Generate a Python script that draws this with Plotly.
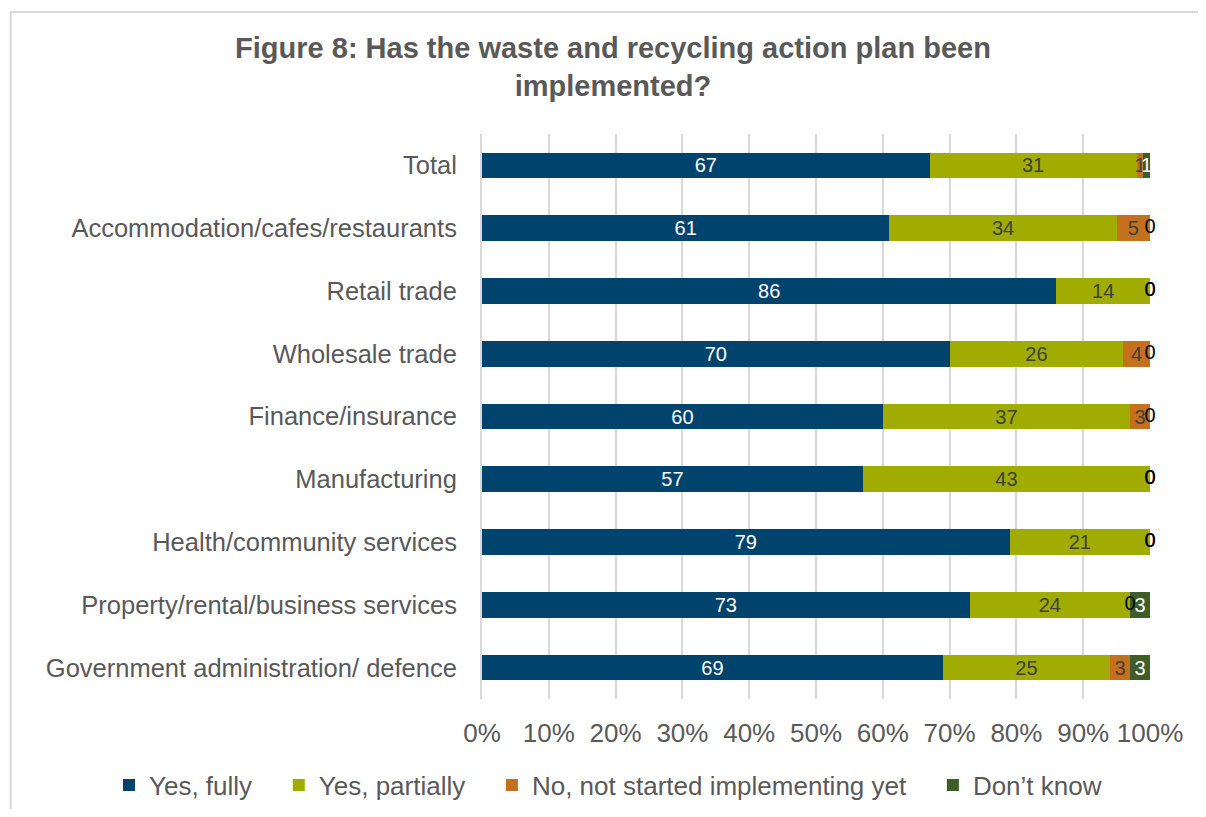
import plotly.graph_objects as go

categories = ['Total', 'Accommodation/cafes/restaurants', 'Retail trade', 'Wholesale trade',
              'Finance/insurance', 'Manufacturing', 'Health/community services',
              'Property/rental/business services', 'Government administration/ defence']
series_names = ['Yes, fully', 'Yes, partially', 'No, not started implementing yet', 'Don\u2019t know']
yes_fully = [67, 61, 86, 70, 60, 57, 79, 73, 69]
yes_partially = [31, 34, 14, 26, 37, 43, 21, 24, 25]
not_started = [1, 5, 0, 4, 3, 0, 0, 0, 3]
dont_know = [1, 0, 0, 0, 0, 0, 0, 3, 3]
tick_vals = [0, 10, 20, 30, 40, 50, 60, 70, 80, 90, 100]

colors = ['#00446d', '#a0ac00', '#c5701c', '#3f5d29']
label_colors = ['white', '#404040', '#404040', 'white']
series = [yes_fully, yes_partially, not_started, dont_know]
pad = '\u00a0' * 3  # spacing between legend entries

# page has an 8px body margin, so the figure is drawn slightly smaller
W, H = 1190, 801
L, T, PW, PH = 474, 126, 668, 565

fig = go.Figure()
for k, (name, vals, col, lcol) in enumerate(zip(series_names, series, colors, label_colors)):
    fig.add_trace(go.Bar(
        x=vals, y=categories, orientation='h',
        name=name + (pad if k < 3 else ''),
        marker=dict(color=col, line=dict(width=0)),
        text=[str(v) if v else '' for v in vals],
        textposition='inside', insidetextanchor='middle', textangle=0,
        constraintext='none',
        textfont=dict(family='Liberation Sans, Arial', size=20, color=lcol),
    ))

# zero-valued segments still get a "0" label at their (zero-width) position
zx, zy = [], []
for i, cat in enumerate(categories):
    total = sum(s[i] for s in series)
    run = 0
    for s in series:
        if s[i] == 0:
            zx.append(run / total * 100)
            zy.append(cat)
        run += s[i]
fig.add_trace(go.Scatter(
    x=zx, y=zy, mode='text', text=['0'] * len(zx), showlegend=False,
    textposition='middle center', cliponaxis=False, hoverinfo='skip',
    textfont=dict(family='Liberation Sans, Arial', size=20, color='black'),
))

fig.update_layout(
    barmode='stack', barnorm='percent', bargap=0.59,
    width=W, height=H,
    margin=dict(l=L, r=W - L - PW, t=T, b=H - T - PH, autoexpand=False),
    paper_bgcolor='white', plot_bgcolor='white',
    font=dict(family='Liberation Sans, Arial', color='#595959'),
    title=dict(text='<b>Figure 8: Has the waste and recycling action plan been<br>implemented?</b>',
               x=605 / W, xref='container', xanchor='center',
               y=1 - 50 / H, yref='container', yanchor='middle',
               font=dict(size=29, color='#595959')),
    legend=dict(orientation='h', x=(101 - L) / PW, xanchor='left',
                y=-(777 - T - PH) / PH, yanchor='middle',
                font=dict(size=26, color='#595959'), traceorder='normal'),
    showlegend=True,
)
fig.update_xaxes(range=[0, 100], tickvals=tick_vals, ticktext=[f'{v}%' for v in tick_vals],
                 showgrid=True, gridcolor='#d9d9d9', gridwidth=2,
                 zeroline=False, showline=False,
                 tickfont=dict(size=26, color='#595959'), ticklabelstandoff=16)
fig.update_yaxes(categoryorder='array', categoryarray=categories[::-1],
                 showline=True, linecolor='#d9d9d9', linewidth=2,
                 tickfont=dict(size=25.5, color='#595959'), ticklabelstandoff=18)

fig.add_shape(type='rect', xref='paper', yref='paper',
              x0=(2.7 - L) / PW, x1=(W + 10 - L) / PW,
              y0=-(H + 10 - T - PH) / PH, y1=1 + (T - 4) / PH,
              line=dict(color='#d9d9d9', width=2), layer='below')

fig.write_html('out.html')
